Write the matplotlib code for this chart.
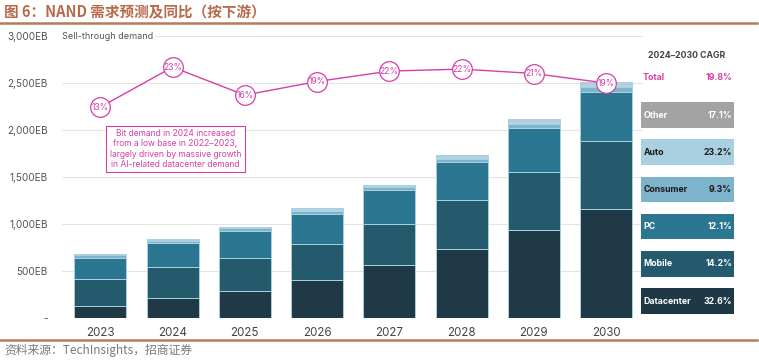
import matplotlib
matplotlib.use("Agg")
import matplotlib.pyplot as plt
from matplotlib.patches import Rectangle
import numpy as np

# ---------------- data ----------------
years = ["2023", "2024", "2025", "2026", "2027", "2028", "2029", "2030"]
datacenter = [131, 216, 290, 408, 564, 737, 940, 1163]
mobile = [290, 327, 348, 386, 440, 518, 617, 724]
pc = [223, 255, 290, 316, 358, 404, 465, 518]
consumer = [27, 29, 31, 34, 35, 40, 46, 52]
auto = [6, 10, 11, 15, 16, 24, 32, 38]
other = [3, 7, 6, 14, 6, 12, 18, 20]
yoy = [13, 23, 16, 19.4, 22, 22.5, 21.4, 19]
yoy_labels = ["13%", "23%", "16%", "19%", "22%", "22%", "21%", "19%"]

series_names = ["Datacenter", "Mobile", "PC", "Consumer", "Auto", "Other"]
cagr_labels = ["32.6%", "14.2%", "12.1%", "9.3%", "23.2%", "17.1%"]
total_cagr = "19.8%"
yticks = [0, 500, 1000, 1500, 2000, 2500, 3000]
ytick_labels = ["-", "500EB", "1,000EB", "1,500EB", "2,000EB", "2,500EB", "3,000EB"]

title = "图 6：NAND 需求预测及同比（按下游）"
source = "资料来源：TechInsights，招商证券"
note = ("Bit demand in 2024 increased\nfrom a low base in 2022\u20132023,\n"
        "largely driven by massive growth\nin AI-related datacenter demand")

# ---------------- style ----------------
W, H = 759, 363
plt.rcParams['font.family'] = ['Inter', 'DejaVu Sans']
bar_colors = ["#1f3946", "#235a6c", "#2a7690", "#7fb4cc", "#b0d5e3", "#c4c9cd"]
box_colors = ["#1e3845", "#245a6d", "#2b7690", "#7db3cb", "#a8d0e0", "#a3a3a3"]
box_text = ["white", "white", "white", "#1a1a1a", "#1a1a1a", "white"]
magenta = "#d63fa6"
cjk = ['Noto Sans CJK SC', 'DejaVu Sans']


def fx(x):
    return x / W


def fy(y):
    return 1 - y / H


fig = plt.figure(figsize=(W / 100, H / 100), dpi=100)
ax_left, ax_right, ax_top, ax_bot = 62, 643, 36.3, 318.3
ax = fig.add_axes([fx(ax_left), fy(ax_bot), fx(ax_right - ax_left), (ax_bot - ax_top) / H])

x = np.arange(len(years))
data = [datacenter, mobile, pc, consumer, auto, other]
bottom = np.zeros(len(years))
for vals, col in zip(data, bar_colors):
    v = np.array(vals, dtype=float)
    ax.bar(x, v, 0.72, bottom=bottom, color=col, edgecolor="#a9d0e0", linewidth=0.7, zorder=3)
    bottom += v

ax.set_xlim(-0.53, 7.51)
ax.set_ylim(0, 3000)
ax.set_yticks(yticks)
ax.set_yticklabels(ytick_labels, fontsize=7.2, color="#555555")
ax.set_xticks(x)
ax.set_xticklabels(years, fontsize=8.3, color="#444444")
ax.tick_params(axis='both', length=0, pad=10)
ax.tick_params(axis='x', pad=6)
ax.grid(axis='y', color="#e4e4e4", linewidth=0.8, zorder=0)
for s in ax.spines.values():
    s.set_visible(False)

ax.text(0.0, 3000, "Sell-through demand", transform=ax.get_yaxis_transform(),
        fontsize=6.5, color="#555555", va="center", ha="left",
        bbox=dict(facecolor="white", edgecolor="none", pad=1.5), zorder=4)

# YoY line on secondary axis
ax2 = ax.twinx()
ax2.set_ylim(-39.8, 30.7)
ax2.axis("off")
ax2.plot(x, yoy, color=magenta, linewidth=1.0, zorder=5)
ax2.scatter(x, yoy, s=200, facecolor="white", edgecolor=magenta, linewidth=0.9, zorder=6)
for xi, yi, lab in zip(x, yoy, yoy_labels):
    ax2.text(xi, yi, lab, ha="center", va="center", fontsize=6.2, color=magenta, zorder=7)

# annotation box
fig.text(fx(175.5), fy(149), note, ha="center", va="center", fontsize=6.1, color=magenta,
         linespacing=1.2,
         bbox=dict(boxstyle="square,pad=0.4", facecolor="white", edgecolor=magenta, linewidth=0.8))

# right legend panel
fig.text(fx(687), fy(55), "2024\u20132030 CAGR", ha="center", va="center", fontsize=6.3,
         color="#444444", fontweight="bold")
fig.text(fx(643), fy(78), "Total", ha="left", va="center", fontsize=6.3, color=magenta, fontweight="bold")
fig.text(fx(732), fy(78), total_cagr, ha="right", va="center", fontsize=6.3, color=magenta, fontweight="bold")
box_tops = [288.3, 251, 213.5, 176.7, 139.3, 102.3]
bh = 25.7
for name, lab, col, tc, top in zip(series_names, cagr_labels, box_colors, box_text, box_tops):
    fig.patches.append(Rectangle((fx(641), fy(top + bh)), fx(734 - 641), bh / H,
                                 transform=fig.transFigure, facecolor=col, edgecolor="none"))
    fig.text(fx(643.5), fy(top + bh / 2), name, ha="left", va="center", fontsize=6.3,
             color=tc, fontweight="bold")
    fig.text(fx(732), fy(top + bh / 2), lab, ha="right", va="center", fontsize=6.3,
             color=tc, fontweight="bold")

# title, rules, source
fig.text(fx(4), fy(12), title, ha="left", va="center", fontsize=10.5, fontweight="bold",
         color="#b8694a", family=cjk)
fig.add_artist(plt.Line2D([0, fx(757)], [fy(23.3), fy(23.3)], color="#b97a5c", linewidth=1.8,
                          transform=fig.transFigure))
fig.add_artist(plt.Line2D([0, fx(757)], [fy(339.5), fy(339.5)], color="#b97a5c", linewidth=1.8,
                          transform=fig.transFigure))
fig.text(fx(4), fy(350), source, ha="left", va="center", fontsize=8.5, color="#7a7a7a", family=cjk)

fig.savefig("out.png", dpi=100)
